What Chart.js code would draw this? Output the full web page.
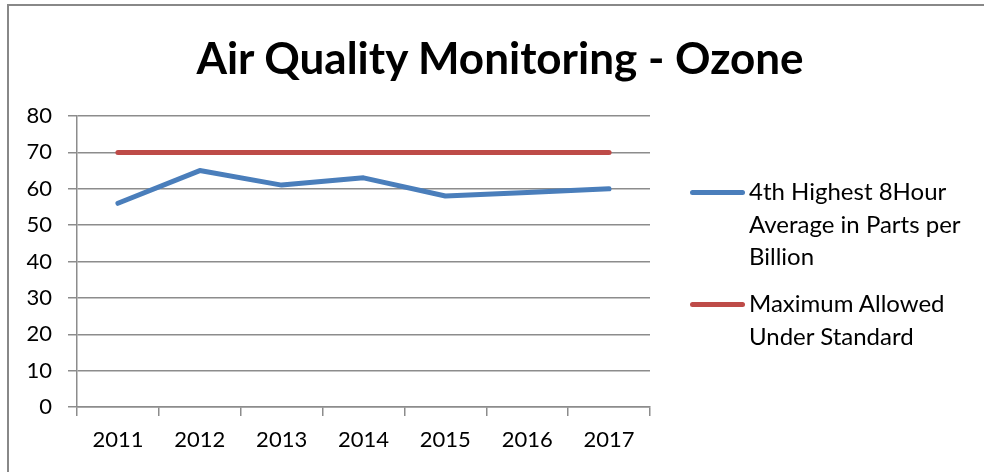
<!DOCTYPE html>
<html>
<head>
<meta charset="utf-8">
<script src="https://cdn.jsdelivr.net/npm/chart.js@4/dist/chart.umd.min.js"></script>
<style>
  html, body { margin: 0; padding: 0; background: #fff; }
  #wrap { position: relative; width: 984px; height: 472px; overflow: hidden; font-family: Lato, "Open Sans", sans-serif; }
  #frame { position: absolute; left: 7px; top: 4px; width: 1000px; height: 500px; border: 2px solid #888; box-sizing: border-box; }
  #title { position: absolute; left: 0; width: 1000px; top: 29px; text-align: center; font-weight: bold; font-size: 44px; color: #000; line-height: 56px; }
  #chart { position: absolute; left: 0; top: 0; }
  .leg { position: absolute; left: 749px; font-size: 24px; line-height: 32.5px; color: #000; }
  .sw { position: absolute; left: 690px; width: 55px; height: 5px; border-radius: 3px; }
</style>
</head>
<body>
<div id="wrap">
  <div id="frame"></div>
  <canvas id="chart" width="984" height="472"></canvas>
  <div id="title"></div>
  <div id="legend"></div>
</div>
<script>
const titleText = "Air Quality Monitoring - Ozone";
const categories = ["2011", "2012", "2013", "2014", "2015", "2016", "2017"];
const seriesNames = ["4th Highest 8Hour Average in Parts per Billion", "Maximum Allowed Under Standard"];
const ozoneValues = [56, 65, 61, 63, 58, 59, 60];
const standardValues = [70, 70, 70, 70, 70, 70, 70];
const yTicks = [0, 10, 20, 30, 40, 50, 60, 70, 80];
const seriesColors = ["#4A7EBB", "#BE4B48"];

document.getElementById('title').textContent = titleText;

// HTML legend (multi-line labels like the reference)
const legendLines = [
  ["4th Highest 8Hour", "Average in Parts per", "Billion"],
  ["Maximum Allowed", "Under Standard"]
];
const legendTops = [175, 287];
const swatchY = [190, 302];
const legend = document.getElementById('legend');
legendLines.forEach((lines, i) => {
  const sw = document.createElement('div');
  sw.className = 'sw';
  sw.style.top = swatchY[i] + 'px';
  sw.style.background = seriesColors[i];
  legend.appendChild(sw);
  const t = document.createElement('div');
  t.className = 'leg';
  t.style.top = legendTops[i] + 'px';
  t.innerHTML = lines.join('<br>');
  legend.appendChild(t);
});

const gridColor = '#8c8c8c';
new Chart(document.getElementById('chart'), {
  type: 'line',
  data: {
    labels: categories,
    datasets: [
      { label: seriesNames[0], data: ozoneValues, borderColor: seriesColors[0], borderWidth: 5, borderCapStyle: 'round', borderJoinStyle: 'round', pointRadius: 0, tension: 0, fill: false },
      { label: seriesNames[1], data: standardValues, borderColor: seriesColors[1], borderWidth: 5, borderCapStyle: 'round', pointRadius: 0, tension: 0, fill: false }
    ]
  },
  options: {
    responsive: false,
    animation: false,
    events: [],
    layout: { padding: { top: 116, right: 334, bottom: 0, left: 0 } },
    plugins: { legend: { display: false }, title: { display: false }, tooltip: { enabled: false } },
    scales: {
      x: {
        offset: true,
        grid: { display: true, offset: true, drawOnChartArea: false, drawTicks: true, tickLength: 9, color: gridColor, lineWidth: 1.5 },
        border: { display: true, color: gridColor, width: 1.5 },
        ticks: { color: '#000', font: { family: 'Lato', size: 22 }, padding: 11, maxRotation: 0, autoSkip: false },
        afterFit: (s) => { s.height = 65; }
      },
      y: {
        min: 0, max: 80,
        afterBuildTicks: (s) => { s.ticks = yTicks.map(v => ({ value: v })); },
        grid: { color: gridColor, lineWidth: 1.5, tickLength: 9, drawTicks: true },
        border: { display: true, color: gridColor, width: 1.5 },
        ticks: { color: '#000', font: { family: 'Lato', size: 22 }, padding: 16 },
        afterFit: (s) => { s.width = 77; }
      }
    }
  }
});
</script>
</body>
</html>
